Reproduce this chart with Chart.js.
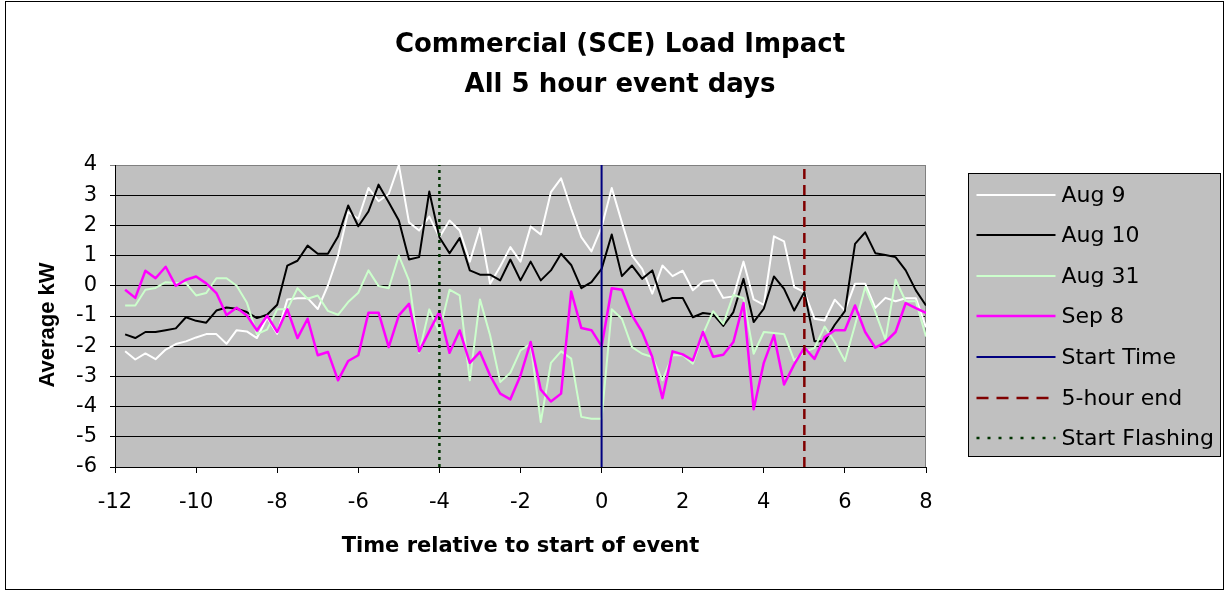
<!DOCTYPE html>
<html>
<head>
<meta charset="utf-8">
<title>Commercial (SCE) Load Impact</title>
<script src="https://cdn.jsdelivr.net/npm/chart.js@4.4.1/dist/chart.umd.min.js"></script>
<style>
  html, body { margin: 0; padding: 0; background: #fff; }
  #wrap { position: relative; width: 1225px; height: 591px; }
</style>
</head>
<body>
<div id="wrap"><canvas id="loadChart"></canvas></div>
<script>
/* global Chart */

// ---------- DATA ----------
// hours relative to event start, one reading every 15 minutes
const hours = [
  -11.75, -11.5, -11.25, -11, -10.75, -10.5, -10.25, -10, -9.75, -9.5,
  -9.25, -9, -8.75, -8.5, -8.25, -8, -7.75, -7.5, -7.25, -7,
  -6.75, -6.5, -6.25, -6, -5.75, -5.5, -5.25, -5, -4.75, -4.5,
  -4.25, -4, -3.75, -3.5, -3.25, -3, -2.75, -2.5, -2.25, -2,
  -1.75, -1.5, -1.25, -1, -0.75, -0.5, -0.25, 0, 0.25, 0.5,
  0.75, 1, 1.25, 1.5, 1.75, 2, 2.25, 2.5, 2.75, 3,
  3.25, 3.5, 3.75, 4, 4.25, 4.5, 4.75, 5, 5.25, 5.5,
  5.75, 6, 6.25, 6.5, 6.75, 7, 7.25, 7.5, 7.75, 8
];

// average load impact, kW
const aug9 = [
  -2.17, -2.44, -2.24, -2.43, -2.11, -1.93, -1.84, -1.71, -1.60, -1.60,
  -1.92, -1.47, -1.51, -1.73, -1.05, -1.59, -0.45, -0.41, -0.41, -0.77,
   0.01,  1.00,  2.44,  2.22,  3.24,  2.80,  3.04,  4.00,  2.10,  1.83,
   2.29,  1.61,  2.16,  1.83,  0.80,  1.91,  0.07,  0.64,  1.28,  0.80,
   1.96,  1.70,  3.10,  3.56,  2.55,  1.61,  1.14,  1.94,  3.24,  2.10,
   1.00,  0.56, -0.26,  0.67,  0.32,  0.50, -0.15,  0.14,  0.18, -0.40,
  -0.35,  0.80, -0.45, -0.63,  1.64,  1.47, -0.04, -0.21, -1.09, -1.15,
  -0.46, -0.82,  0.07,  0.07, -0.73, -0.40, -0.51, -0.41, -0.41, -1.37
];
const aug10 = [
  -1.61, -1.73, -1.53, -1.53, -1.47, -1.41, -1.04, -1.16, -1.22, -0.82,
  -0.72, -0.76, -0.87, -1.07, -0.96, -0.63,  0.67,  0.83,  1.33,  1.06,
   1.06,  1.63,  2.66,  1.97,  2.46,  3.35,  2.77,  2.16,  0.87,  0.95,
   3.12,  1.61,  1.08,  1.58,  0.51,  0.37,  0.37,  0.18,  0.87,  0.18,
   0.80,  0.18,  0.51,  1.06,  0.69, -0.08,  0.12,  0.56,  1.70,  0.32,
   0.67,  0.23,  0.51, -0.52, -0.40, -0.40, -1.04, -0.90, -0.94, -1.33,
  -0.87,  0.23, -1.20, -0.76,  0.31, -0.10, -0.82, -0.21, -1.84, -1.84,
  -1.29, -0.84,  1.39,  1.77,  1.08,  1.02,  0.95,  0.51, -0.15, -0.65
];
const aug31 = [
  -0.65, -0.65, -0.13, -0.07,  0.12,  0.09,  0.09, -0.32, -0.24,  0.25,
   0.25,  0.00, -0.55, -1.60, -1.45, -0.78, -0.78, -0.08, -0.43, -0.32,
  -0.83, -0.96, -0.54, -0.23,  0.51, -0.01, -0.08,  1.00,  0.18, -2.22,
  -0.78, -1.53, -0.13, -0.32, -3.13, -0.45, -1.64, -3.19, -2.88, -2.14,
  -1.92, -4.51, -2.55, -2.17, -2.41, -4.34, -4.40, -4.40, -0.78, -1.09,
  -2.03, -2.25, -2.36, -3.13, -2.30, -2.30, -2.58, -1.60, -0.84, -1.26,
  -0.30, -0.41, -2.25, -1.53, -1.56, -1.60, -2.47, -2.19, -2.06, -1.35,
  -1.86, -2.49, -1.30, -0.04, -0.87, -1.78,  0.20, -0.51, -0.51, -1.68
];
const sep8 = [
  -0.13, -0.40,  0.50,  0.25,  0.63,  0.00,  0.20,  0.31,  0.08, -0.24,
  -0.97, -0.73, -0.98, -1.48, -0.99, -1.53, -0.78, -1.73, -1.09, -2.30,
  -2.19, -3.13, -2.49, -2.30, -0.89, -0.89, -2.03, -0.98, -0.60, -2.17,
  -1.51, -0.85, -2.22, -1.48, -2.55, -2.19, -2.97, -3.57, -3.76, -2.97,
  -1.86, -3.44, -3.83, -3.57, -0.19, -1.40, -1.47, -2.00, -0.08, -0.13,
  -0.98, -1.53, -2.36, -3.72, -2.17, -2.27, -2.47, -1.53, -2.35, -2.28,
  -1.86, -0.57, -4.09, -2.55, -1.64, -3.27, -2.60, -2.05, -2.42, -1.70,
  -1.47, -1.47, -0.65, -1.53, -2.05, -1.86, -1.53, -0.57, -0.74, -0.90
];

// event markers, hours
const startTime     = 0;
const fiveHourEnd   = 5;
const startFlashing = -4;

// axis ranges
const xRange = [-12, 8];
const yRange = [-6, 4];

const titleLines = ['Commercial (SCE) Load Impact', 'All 5 hour event days'];
const yTitle = 'Average kW';
const xTitle = 'Time relative to start of event';

// ---------- helpers ----------
const toPoints = vals => vals.map((v, i) => ({ x: hours[i], y: v }));
const vLine = x => [{ x, y: yRange[0] }, { x, y: yRange[1] }];

const FONT = 'DejaVu Sans';

/* plot / page decoration: backgrounds, borders, titles, legend */
const decor = {
  id: 'decor',
  beforeDraw (chart) {
    const { ctx, chartArea: a, width, height } = chart;
    ctx.save();
    ctx.fillStyle = '#fff';
    ctx.fillRect(0, 0, width, height);
    ctx.fillStyle = '#C0C0C0';
    ctx.fillRect(a.left, a.top, a.right - a.left, a.bottom - a.top);
    ctx.restore();
  },
  beforeDatasetsDraw (chart) {
    const { ctx, chartArea: a } = chart;
    ctx.save();
    ctx.strokeStyle = '#808080';
    ctx.lineWidth = 1;
    ctx.beginPath();
    ctx.moveTo(Math.round(a.right) - 0.5, a.top);
    ctx.lineTo(Math.round(a.right) - 0.5, a.bottom);
    ctx.stroke();
    ctx.restore();
  },
  afterDraw (chart) {
    const { ctx, width, height } = chart;
    ctx.save();

    // outer frame
    ctx.strokeStyle = '#000';
    ctx.lineWidth = 1;
    ctx.strokeRect(5.5, 1.5, width - 7, height - 3);

    // chart title
    ctx.fillStyle = '#000';
    ctx.textAlign = 'center';
    ctx.textBaseline = 'middle';
    ctx.font = `bold 26px "${FONT}"`;
    titleLines.forEach((t, i) => ctx.fillText(t, 620, 45 + i * 40));

    // value axis title (sits a little below the plot middle)
    ctx.save();
    ctx.translate(48, 325);
    ctx.rotate(-Math.PI / 2);
    ctx.font = 'bold 22px "Liberation Sans"';
    ctx.fillText(yTitle, 0, 0);
    ctx.restore();

    // legend
    const lx = 968.5, ly = 173.5, lw = 252, lh = 283;
    ctx.fillStyle = '#C0C0C0';
    ctx.fillRect(lx, ly, lw, lh);
    ctx.strokeStyle = '#000';
    ctx.strokeRect(lx, ly, lw, lh);

    ctx.font = `22px "${FONT}"`;
    ctx.textAlign = 'left';
    chart.data.datasets.forEach((ds, i) => {
      const y = Math.round(ly + 21 + i * 40.6);
      ctx.strokeStyle = ds.borderColor;
      ctx.lineWidth = ds.borderWidth;
      ctx.setLineDash(ds.legendDash || []);
      ctx.beginPath();
      ctx.moveTo(lx + 8, y);
      ctx.lineTo(lx + 87, y);
      ctx.stroke();
      ctx.setLineDash([]);
      ctx.fillStyle = '#000';
      ctx.fillText(ds.label, lx + 93, y + 1);
    });
    ctx.restore();
  }
};

// ---------- CHART ----------
const series = (label, vals, color, width, order) => ({
  label, data: toPoints(vals), borderColor: color, borderWidth: width,
  pointRadius: 0, tension: 0, borderJoinStyle: 'round', order
});
const marker = (label, x, color, width, dash, legendDash, order) => ({
  label, data: vLine(x), borderColor: color, borderWidth: width,
  borderDash: dash, legendDash, pointRadius: 0, order
});

new Chart(document.getElementById('loadChart'), {
  type: 'line',
  data: {
    datasets: [
      series('Aug 9',  aug9,  '#FFFFFF', 2,   7),
      series('Aug 10', aug10, '#000000', 2,   6),
      series('Aug 31', aug31, '#CCFFCC', 2,   5),
      series('Sep 8',  sep8,  '#FF00FF', 2.5, 4),
      marker('Start Time',     startTime,     '#000080', 2,   [],      [],      3),
      marker('5-hour end',     fiveHourEnd,   '#800000', 2.5, [10, 6], [12, 8], 2),
      marker('Start Flashing', startFlashing, '#003300', 2.5, [3, 4],  [3, 8],  1)
    ]
  },
  options: {
    responsive: true,
    maintainAspectRatio: false,
    animation: false,
    layout: { padding: { top: 165, right: 299, left: 0, bottom: 0 } },
    plugins: {
      legend: { display: false },
      title: { display: false },
      tooltip: { enabled: false }
    },
    scales: {
      x: {
        type: 'linear',
        min: xRange[0], max: xRange[1],
        afterFit: s => { s.height = 124; },
        ticks: { stepSize: 2, color: '#000', padding: 17, maxRotation: 0,
                 font: { family: FONT, size: 21 } },
        grid: { drawOnChartArea: false, drawTicks: true, tickLength: 6, color: '#000' },
        border: { color: '#000', width: 1 },
        title: { display: true, text: xTitle, color: '#000',
                 font: { family: FONT, size: 21, weight: 'bold' }, padding: { bottom: 32 } }
      },
      y: {
        min: yRange[0], max: yRange[1],
        afterFit: s => { s.width = 115; },
        ticks: { stepSize: 1, color: '#000', padding: 13,
                 font: { family: FONT, size: 21 } },
        grid: {
          color: c => (c.tick && c.tick.value === yRange[1] ? '#808080' : '#000'),
          tickLength: 5, lineWidth: 1
        },
        border: { color: '#000', width: 1 }
      }
    }
  },
  plugins: [decor]
});
</script>
</body>
</html>
